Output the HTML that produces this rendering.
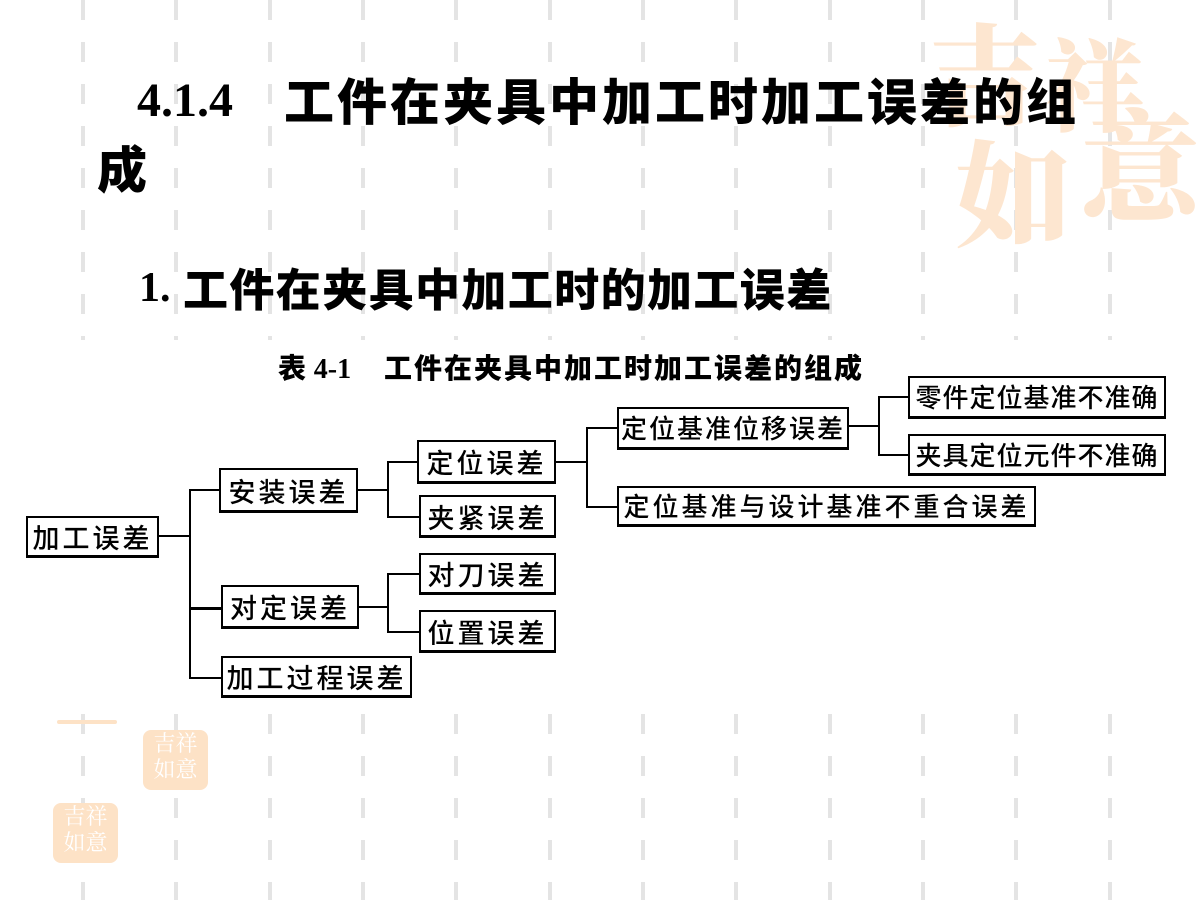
<!DOCTYPE html>
<html><head><meta charset="utf-8"><style>
html,body{margin:0;padding:0}
body{width:1200px;height:900px;position:relative;overflow:hidden;background:#fff;font-family:"Liberation Sans","Noto Sans CJK SC",sans-serif}
.dash{position:absolute;top:0;width:4px;height:900px;background:repeating-linear-gradient(to bottom,#e4e4e4 0,#e4e4e4 20px,transparent 20px,transparent 42px)}
.a{position:absolute;white-space:nowrap}
.cj{font-family:"Noto Sans CJK SC",sans-serif;font-weight:900}
.sr{font-family:"Liberation Serif",serif;font-weight:bold}
.box{position:absolute;box-sizing:border-box;border:2px solid #000;border-bottom-width:3px;background:#fff;font-family:"Noto Sans CJK SC",sans-serif;font-size:27px;line-height:1;display:flex;align-items:center;justify-content:center;letter-spacing:3px;color:#000;font-weight:500;white-space:nowrap;overflow:visible}
.h{position:absolute;height:2px;background:#000}
.v{position:absolute;width:2px;background:#000}
.wm{position:absolute;color:#fde6d0;font-family:"Noto Serif CJK SC",serif;font-weight:900;line-height:1}
.seal{position:absolute;width:65px;height:60px;background:#fde2c6;border-radius:8px;color:#fff;font-family:"Noto Serif CJK SC",serif;font-size:22px;line-height:26px;text-align:center;overflow:hidden}
</style></head><body>
<div class="dash" style="left:81px"></div><div class="dash" style="left:174px"></div><div class="dash" style="left:268px"></div><div class="dash" style="left:361px"></div><div class="dash" style="left:454px"></div><div class="dash" style="left:548px"></div><div class="dash" style="left:641px"></div><div class="dash" style="left:734px"></div><div class="dash" style="left:828px"></div><div class="dash" style="left:921px"></div><div class="dash" style="left:1014px"></div><div class="dash" style="left:1108px"></div>

<div class="wm" style="left:930px;top:15px;font-size:110px">吉</div>
<div class="wm" style="left:1045px;top:30px;font-size:100px">祥</div>
<div class="wm" style="left:955px;top:130px;font-size:115px">如</div>
<div class="wm" style="left:1080px;top:100px;font-size:120px">意</div>

<div style="position:absolute;left:57px;top:720px;width:60px;height:4px;background:#fde2c6;border-radius:2px"></div>
<div class="seal" style="left:143px;top:730px">吉祥<br>如意</div>
<div class="seal" style="left:53px;top:803px">吉祥<br>如意</div>

<div class="a sr" style="left:137px;top:76px;font-size:48px;line-height:50px">4.1.4</div>
<div class="a cj" style="left:284px;top:72px;font-size:50px;line-height:54px;letter-spacing:3px">工件在夹具中加工时加工误差的组</div>
<div class="a cj" style="left:97px;top:140px;font-size:50px;line-height:54px">成</div>
<div class="a sr" style="left:139px;top:266px;font-size:42px;line-height:44px">1.</div>
<div class="a cj" style="left:183px;top:262px;font-size:45px;line-height:50px;letter-spacing:1.4px">工件在夹具中加工时的加工误差</div>

<div style="position:absolute;left:0;top:340px;width:1200px;height:372px;background:#fff"></div>

<div class="a" style="left:278px;top:350px;font-size:28px;line-height:34px"><span class="cj">表</span> <span class="sr">4-1</span></div>
<div class="a cj" style="left:384px;top:350px;font-size:28px;line-height:34px;letter-spacing:2px">工件在夹具中加工时加工误差的组成</div>

<div class="box" style="left:26px;top:516px;width:133px;height:42px">加工误差</div>
<div class="box" style="left:219px;top:468px;width:139px;height:45px">安装误差</div>
<div class="box" style="left:221px;top:585px;width:138px;height:44px">对定误差</div>
<div class="box" style="left:221px;top:656px;width:191px;height:42px">加工过程误差</div>
<div class="box" style="left:417px;top:440px;width:139px;height:44px">定位误差</div>
<div class="box" style="left:419px;top:495px;width:137px;height:43px">夹紧误差</div>
<div class="box" style="left:419px;top:553px;width:137px;height:42px">对刀误差</div>
<div class="box" style="left:419px;top:610px;width:137px;height:43px">位置误差</div>
<div class="box" style="left:617px;top:407px;width:232px;height:43px;font-size:26px;letter-spacing:2px">定位基准位移误差</div>
<div class="box" style="left:617px;top:486px;width:419px;height:41px;font-size:26px;letter-spacing:3px">定位基准与设计基准不重合误差</div>
<div class="box" style="left:908px;top:376px;width:258px;height:43px;font-size:26px;letter-spacing:1px">零件定位基准不准确</div>
<div class="box" style="left:908px;top:434px;width:258px;height:42px;font-size:26px;letter-spacing:1px">夹具定位元件不准确</div>

<div class="h" style="left:159px;top:535px;width:32px"></div>
<div class="v" style="left:189px;top:489px;height:190px"></div>
<div class="h" style="left:189px;top:489px;width:31px"></div>
<div class="h" style="left:189px;top:607px;width:32px;height:3px"></div>
<div class="h" style="left:189px;top:677px;width:32px"></div>

<div class="h" style="left:358px;top:489px;width:31px"></div>
<div class="v" style="left:387px;top:461px;height:57px"></div>
<div class="h" style="left:387px;top:461px;width:30px"></div>
<div class="h" style="left:387px;top:516px;width:32px"></div>

<div class="h" style="left:359px;top:606px;width:30px"></div>
<div class="v" style="left:387px;top:573px;height:60px"></div>
<div class="h" style="left:387px;top:573px;width:32px"></div>
<div class="h" style="left:387px;top:631px;width:32px"></div>

<div class="h" style="left:556px;top:461px;width:32px"></div>
<div class="v" style="left:586px;top:427px;height:81px"></div>
<div class="h" style="left:586px;top:427px;width:31px"></div>
<div class="h" style="left:586px;top:506px;width:31px"></div>

<div class="h" style="left:849px;top:425px;width:31px"></div>
<div class="v" style="left:878px;top:396px;height:60px"></div>
<div class="h" style="left:878px;top:396px;width:30px"></div>
<div class="h" style="left:878px;top:454px;width:30px"></div>
</body></html>
